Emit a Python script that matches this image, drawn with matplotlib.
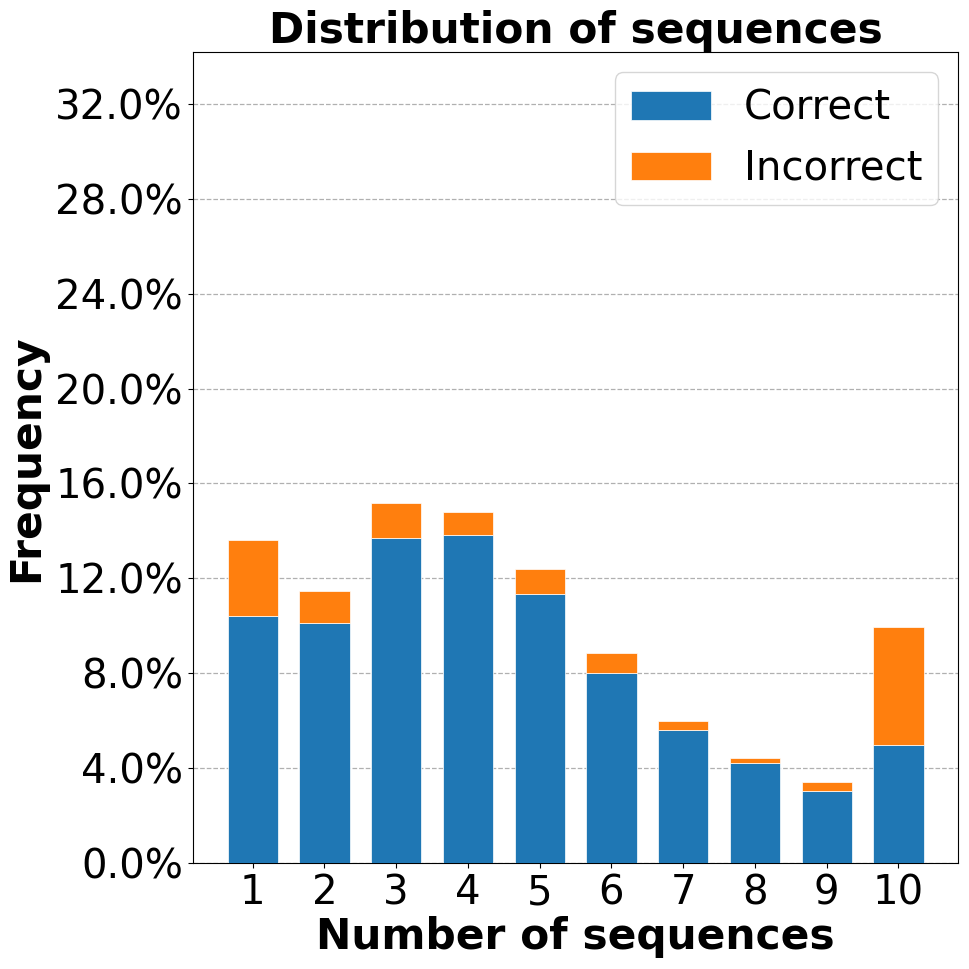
import matplotlib
matplotlib.use("Agg")
import matplotlib.pyplot as plt
from matplotlib.ticker import PercentFormatter, MultipleLocator

# данные
num_seq = [1, 2, 3, 4, 5, 6, 7, 8, 9, 10]
correct = [0.1041, 0.1013, 0.1370, 0.1382, 0.1135, 0.0800, 0.0563, 0.0421, 0.0306, 0.0497]
total = [0.1364, 0.1149, 0.1518, 0.1479, 0.1240, 0.0885, 0.0599, 0.0445, 0.0341, 0.0995]
incorrect = [t - c for t, c in zip(total, correct)]

fig, ax = plt.subplots(figsize=(9.69, 9.69), dpi=100)
fig.subplots_adjust(left=0.199, right=0.989, top=0.946, bottom=0.109)

ax.bar(num_seq, correct, width=0.7, color="#1f77b4", edgecolor="white", linewidth=0.5,
       label="Correct", zorder=3)
ax.bar(num_seq, incorrect, width=0.7, bottom=correct, color="#ff7f0e", edgecolor="white",
       linewidth=0.5, label="Incorrect", zorder=3)

ax.set_ylim(0, 0.3416)
ax.yaxis.set_major_locator(MultipleLocator(0.04))
ax.yaxis.set_major_formatter(PercentFormatter(1, decimals=1))
ax.set_xticks(num_seq)
ax.grid(axis="y", linestyle="--", color="#b0b0b0", linewidth=0.9, zorder=0)

ax.tick_params(labelsize=29)
ax.set_xlabel("Number of sequences", fontsize=30.5, fontweight="bold", labelpad=2)
ax.set_ylabel("Frequency", fontsize=30.5, fontweight="bold", labelpad=6)
ax.set_title("Distribution of sequences", fontsize=30.5, fontweight="bold", pad=6)
ax.legend(fontsize=29, loc="upper right")

plt.savefig("out.png")
